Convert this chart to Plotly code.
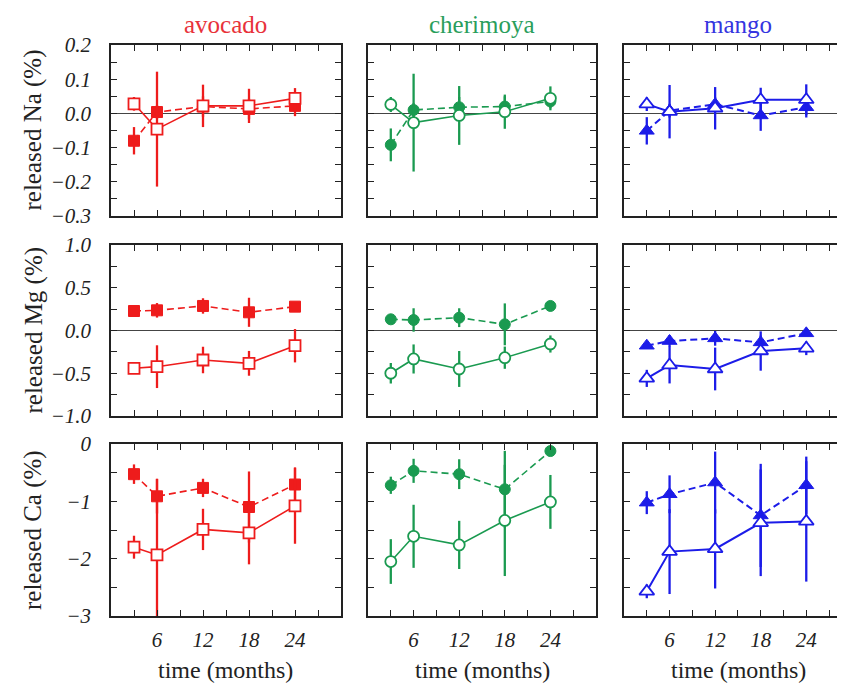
import plotly.graph_objects as go

months = [3, 6, 12, 18, 24]
fruits = ["avocado", "cherimoya", "mango"]
elements = ["Na", "Mg", "Ca"]

# values (%) and error half-widths; "filled" = dashed series, "open" = solid series
avocado_na_filled = [-0.080, 0.004, 0.020, 0.013, 0.022]
avocado_na_filled_err = [0.04, 0.02, 0.03, 0.03, 0.03]
avocado_na_open = [0.028, -0.046, 0.022, 0.022, 0.044]
avocado_na_open_err = [0.02, 0.168, 0.062, 0.05, 0.03]
cherimoya_na_filled = [-0.092, 0.010, 0.018, 0.020, 0.035]
cherimoya_na_filled_err = [0.048, 0.02, 0.03, 0.03, 0.02]
cherimoya_na_open = [0.026, -0.027, -0.006, 0.005, 0.044]
cherimoya_na_open_err = [0.022, 0.143, 0.086, 0.05, 0.035]
mango_na_filled = [-0.051, 0.008, 0.027, -0.006, 0.018]
mango_na_filled_err = [0.04, 0.02, 0.02, 0.045, 0.03]
mango_na_open = [0.027, 0.005, 0.015, 0.040, 0.040]
mango_na_open_err = [0.02, 0.078, 0.062, 0.035, 0.045]

avocado_mg_filled = [0.228, 0.236, 0.287, 0.213, 0.279]
avocado_mg_filled_err = [0.04, 0.085, 0.09, 0.17, 0.04]
avocado_mg_open = [-0.442, -0.423, -0.345, -0.384, -0.178]
avocado_mg_open_err = [0.06, 0.25, 0.155, 0.145, 0.195]
cherimoya_mg_filled = [0.131, 0.123, 0.150, 0.072, 0.287]
cherimoya_mg_filled_err = [0.03, 0.137, 0.11, 0.245, 0.03]
cherimoya_mg_open = [-0.50, -0.333, -0.450, -0.318, -0.158]
cherimoya_mg_open_err = [0.12, 0.17, 0.21, 0.13, 0.10]
mango_mg_filled = [-0.178, -0.123, -0.092, -0.139, -0.033]
mango_mg_filled_err = [0.03, 0.07, 0.086, 0.08, 0.03]
mango_mg_open = [-0.56, -0.404, -0.45, -0.240, -0.208]
mango_mg_open_err = [0.10, 0.215, 0.25, 0.23, 0.08]

avocado_ca_filled = [-0.526, -0.912, -0.766, -1.099, -0.707]
avocado_ca_filled_err = [0.17, 0.3, 0.16, 0.62, 0.3]
avocado_ca_open = [-1.80, -1.935, -1.49, -1.549, -1.08]
avocado_ca_open_err = [0.2, 1.33, 0.36, 0.55, 0.66]
cherimoya_ca_filled = [-0.72, -0.468, -0.526, -0.79, -0.123]
cherimoya_ca_filled_err = [0.15, 0.21, 0.26, 0.67, 0.05]
cherimoya_ca_open = [-2.05, -1.61, -1.76, -1.333, -1.01]
cherimoya_ca_open_err = [0.39, 0.55, 0.42, 0.97, 0.47]
mango_ca_filled = [-1.023, -0.877, -0.672, -1.246, -0.72]
mango_ca_filled_err = [0.2, 0.33, 0.54, 0.9, 0.5]
mango_ca_open = [-2.57, -1.877, -1.83, -1.374, -1.35]
mango_ca_open_err = [0.12, 0.74, 0.69, 0.93, 1.05]

x_tickvals = [3, 6, 9, 12, 15, 18, 21, 24, 27]
x_ticklabels = ["", "6", "", "12", "", "18", "", "24", ""]

y_ranges = {"Na": [-0.3, 0.2], "Mg": [-1.0, 1.0], "Ca": [-3.0, 0.0]}
y_tickvals = {
    "Na": [-0.3, -0.25, -0.2, -0.15, -0.1, -0.05, 0.0, 0.05, 0.1, 0.15, 0.2],
    "Mg": [-1.0, -0.75, -0.5, -0.25, 0.0, 0.25, 0.5, 0.75, 1.0],
    "Ca": [-3.0, -2.5, -2.0, -1.5, -1.0, -0.5, 0.0],
}
y_ticklabels = {
    "Na": ["−0.3", "", "−0.2", "", "−0.1", "", "0.0", "", "0.1", "", "0.2"],
    "Mg": ["−1.0", "", "−0.5", "", "0.0", "", "0.5", "", "1.0"],
    "Ca": ["−3", "", "−2", "", "−1", "", "0"],
}

data = {
    ("avocado", "Na"): (avocado_na_filled, avocado_na_filled_err, avocado_na_open, avocado_na_open_err),
    ("cherimoya", "Na"): (cherimoya_na_filled, cherimoya_na_filled_err, cherimoya_na_open, cherimoya_na_open_err),
    ("mango", "Na"): (mango_na_filled, mango_na_filled_err, mango_na_open, mango_na_open_err),
    ("avocado", "Mg"): (avocado_mg_filled, avocado_mg_filled_err, avocado_mg_open, avocado_mg_open_err),
    ("cherimoya", "Mg"): (cherimoya_mg_filled, cherimoya_mg_filled_err, cherimoya_mg_open, cherimoya_mg_open_err),
    ("mango", "Mg"): (mango_mg_filled, mango_mg_filled_err, mango_mg_open, mango_mg_open_err),
    ("avocado", "Ca"): (avocado_ca_filled, avocado_ca_filled_err, avocado_ca_open, avocado_ca_open_err),
    ("cherimoya", "Ca"): (cherimoya_ca_filled, cherimoya_ca_filled_err, cherimoya_ca_open, cherimoya_ca_open_err),
    ("mango", "Ca"): (mango_ca_filled, mango_ca_filled_err, mango_ca_open, mango_ca_open_err),
}

colors = {"avocado": "#ee1c1c", "cherimoya": "#1a9a50", "mango": "#1c1ce8"}
title_colors = {"avocado": "#e8323a", "cherimoya": "#2a9e5c", "mango": "#3535e0"}
symbols = {"avocado": "square", "cherimoya": "circle", "mango": "triangle-up"}
msize = {"avocado": 11, "cherimoya": 11, "mango": 13}
line_w = {"avocado": 1.6, "cherimoya": 1.6, "mango": 2.0}

# page body has an 8px margin: figure is drawn from (8, 8) of the window
OFF = 8
W, H = 845 - OFF, 686 - OFF
FONT = "Liberation Serif, Times New Roman, DejaVu Serif, serif"
col_px = [(111, 341), (368, 596), (624, 845)]
col_xmax = [30, 30, 29.1]
row_px = [(45, 216), (245, 416), (444, 616)]


def px(x):
    return (x - OFF) / W


def py(y):
    return 1 - (y - OFF) / H


fig = go.Figure()
layout = {}

for r, el in enumerate(elements):
    for c, fr in enumerate(fruits):
        p = r * 3 + c + 1
        xa = "x" if p == 1 else f"x{p}"
        ya = "y" if p == 1 else f"y{p}"
        fv, fe, ov, oe = data[(fr, el)]
        col = colors[fr]
        fig.add_trace(go.Scatter(
            x=months, y=fv, xaxis=xa, yaxis=ya, mode="lines+markers",
            line=dict(color=col, width=line_w[fr], dash="7px,4px"),
            marker=dict(symbol=symbols[fr], size=msize[fr], color=col, line=dict(color=col, width=1)),
            error_y=dict(type="data", array=fe, visible=True, thickness=2.3, width=0, color=col),
            showlegend=False))
        fig.add_trace(go.Scatter(
            x=months, y=ov, xaxis=xa, yaxis=ya, mode="lines+markers",
            line=dict(color=col, width=line_w[fr]),
            marker=dict(symbol=symbols[fr], size=msize[fr], color="white", line=dict(color=col, width=1.8)),
            error_y=dict(type="data", array=oe, visible=True, thickness=2.3, width=0, color=col),
            showlegend=False))

        x0, x1 = col_px[c]
        y0, y1 = row_px[r]
        xkey = "xaxis" if p == 1 else f"xaxis{p}"
        ykey = "yaxis" if p == 1 else f"yaxis{p}"
        layout[xkey] = dict(
            domain=[px(x0), min(1.0, px(x1))], range=[0, col_xmax[c]], anchor=ya, automargin=False,
            tickmode="array", tickvals=x_tickvals,
            ticktext=[f"<i>{t}</i>" if t else "" for t in x_ticklabels],
            showticklabels=(r == 2), ticks="inside", ticklen=6, tickwidth=1.2,
            tickcolor="#222", showline=True, linecolor="#222", linewidth=1.5,
            mirror="ticks", showgrid=False, zeroline=False,
            tickfont=dict(family=FONT, size=21, color="#222"), ticklabelstandoff=4)
        layout[ykey] = dict(
            domain=[py(y1), py(y0)], range=y_ranges[el], anchor=xa, automargin=False,
            tickmode="array", tickvals=y_tickvals[el],
            ticktext=[f"<i>{t}</i>" if t else "" for t in y_ticklabels[el]],
            showticklabels=(c == 0), ticks="inside", ticklen=6, tickwidth=1.2,
            tickcolor="#222", showline=True, linecolor="#222", linewidth=1.5,
            mirror=("ticks" if c < 2 else False), showgrid=False,
            zeroline=(el != "Ca"), zerolinecolor="#444", zerolinewidth=1.2,
            tickfont=dict(family=FONT, size=21, color="#222"), ticklabelstandoff=14)

# right-side ticks for the (cut-off) mango column
for r, el in enumerate(elements):
    p = r * 3 + 3
    q = 9 + r + 1
    layout[f"yaxis{q}"] = dict(
        overlaying=f"y{p}", side="right", anchor=f"x{p}", range=y_ranges[el], automargin=False,
        tickmode="array", tickvals=y_tickvals[el], showticklabels=False,
        ticks="inside", ticklen=6, tickwidth=1.2, tickcolor="#222",
        showline=False, showgrid=False, zeroline=False)
    fig.add_trace(go.Scatter(x=[None], y=[None], xaxis=f"x{p}", yaxis=f"y{q}",
                             showlegend=False, hoverinfo="skip"))

annotations = []
for c, fr in enumerate(fruits):
    x0, x1 = col_px[c]
    cx = x0 + 114
    annotations.append(dict(text=fr, x=px(cx), y=py(25), xref="paper", yref="paper",
                            showarrow=False, xanchor="center", yanchor="middle",
                            font=dict(family=FONT, size=25, color=title_colors[fr])))
    annotations.append(dict(text="time (months)", x=px(cx), y=py(670), xref="paper", yref="paper",
                            showarrow=False, xanchor="center", yanchor="middle",
                            font=dict(family=FONT, size=24, color="#222")))
for r, el in enumerate(elements):
    y0, y1 = row_px[r]
    annotations.append(dict(text=f"released {el} (%)", x=px(33), y=py((y0 + y1) / 2),
                            xref="paper", yref="paper", showarrow=False, textangle=-90,
                            xanchor="center", yanchor="middle",
                            font=dict(family=FONT, size=25, color="#222")))

fig.update_layout(
    template="none",
    width=W, height=H, margin=dict(l=0, r=0, t=0, b=0, pad=0),
    paper_bgcolor="white", plot_bgcolor="white",
    font=dict(family=FONT, color="#222"),
    annotations=annotations, **layout)

fig.write_html("out.html")
